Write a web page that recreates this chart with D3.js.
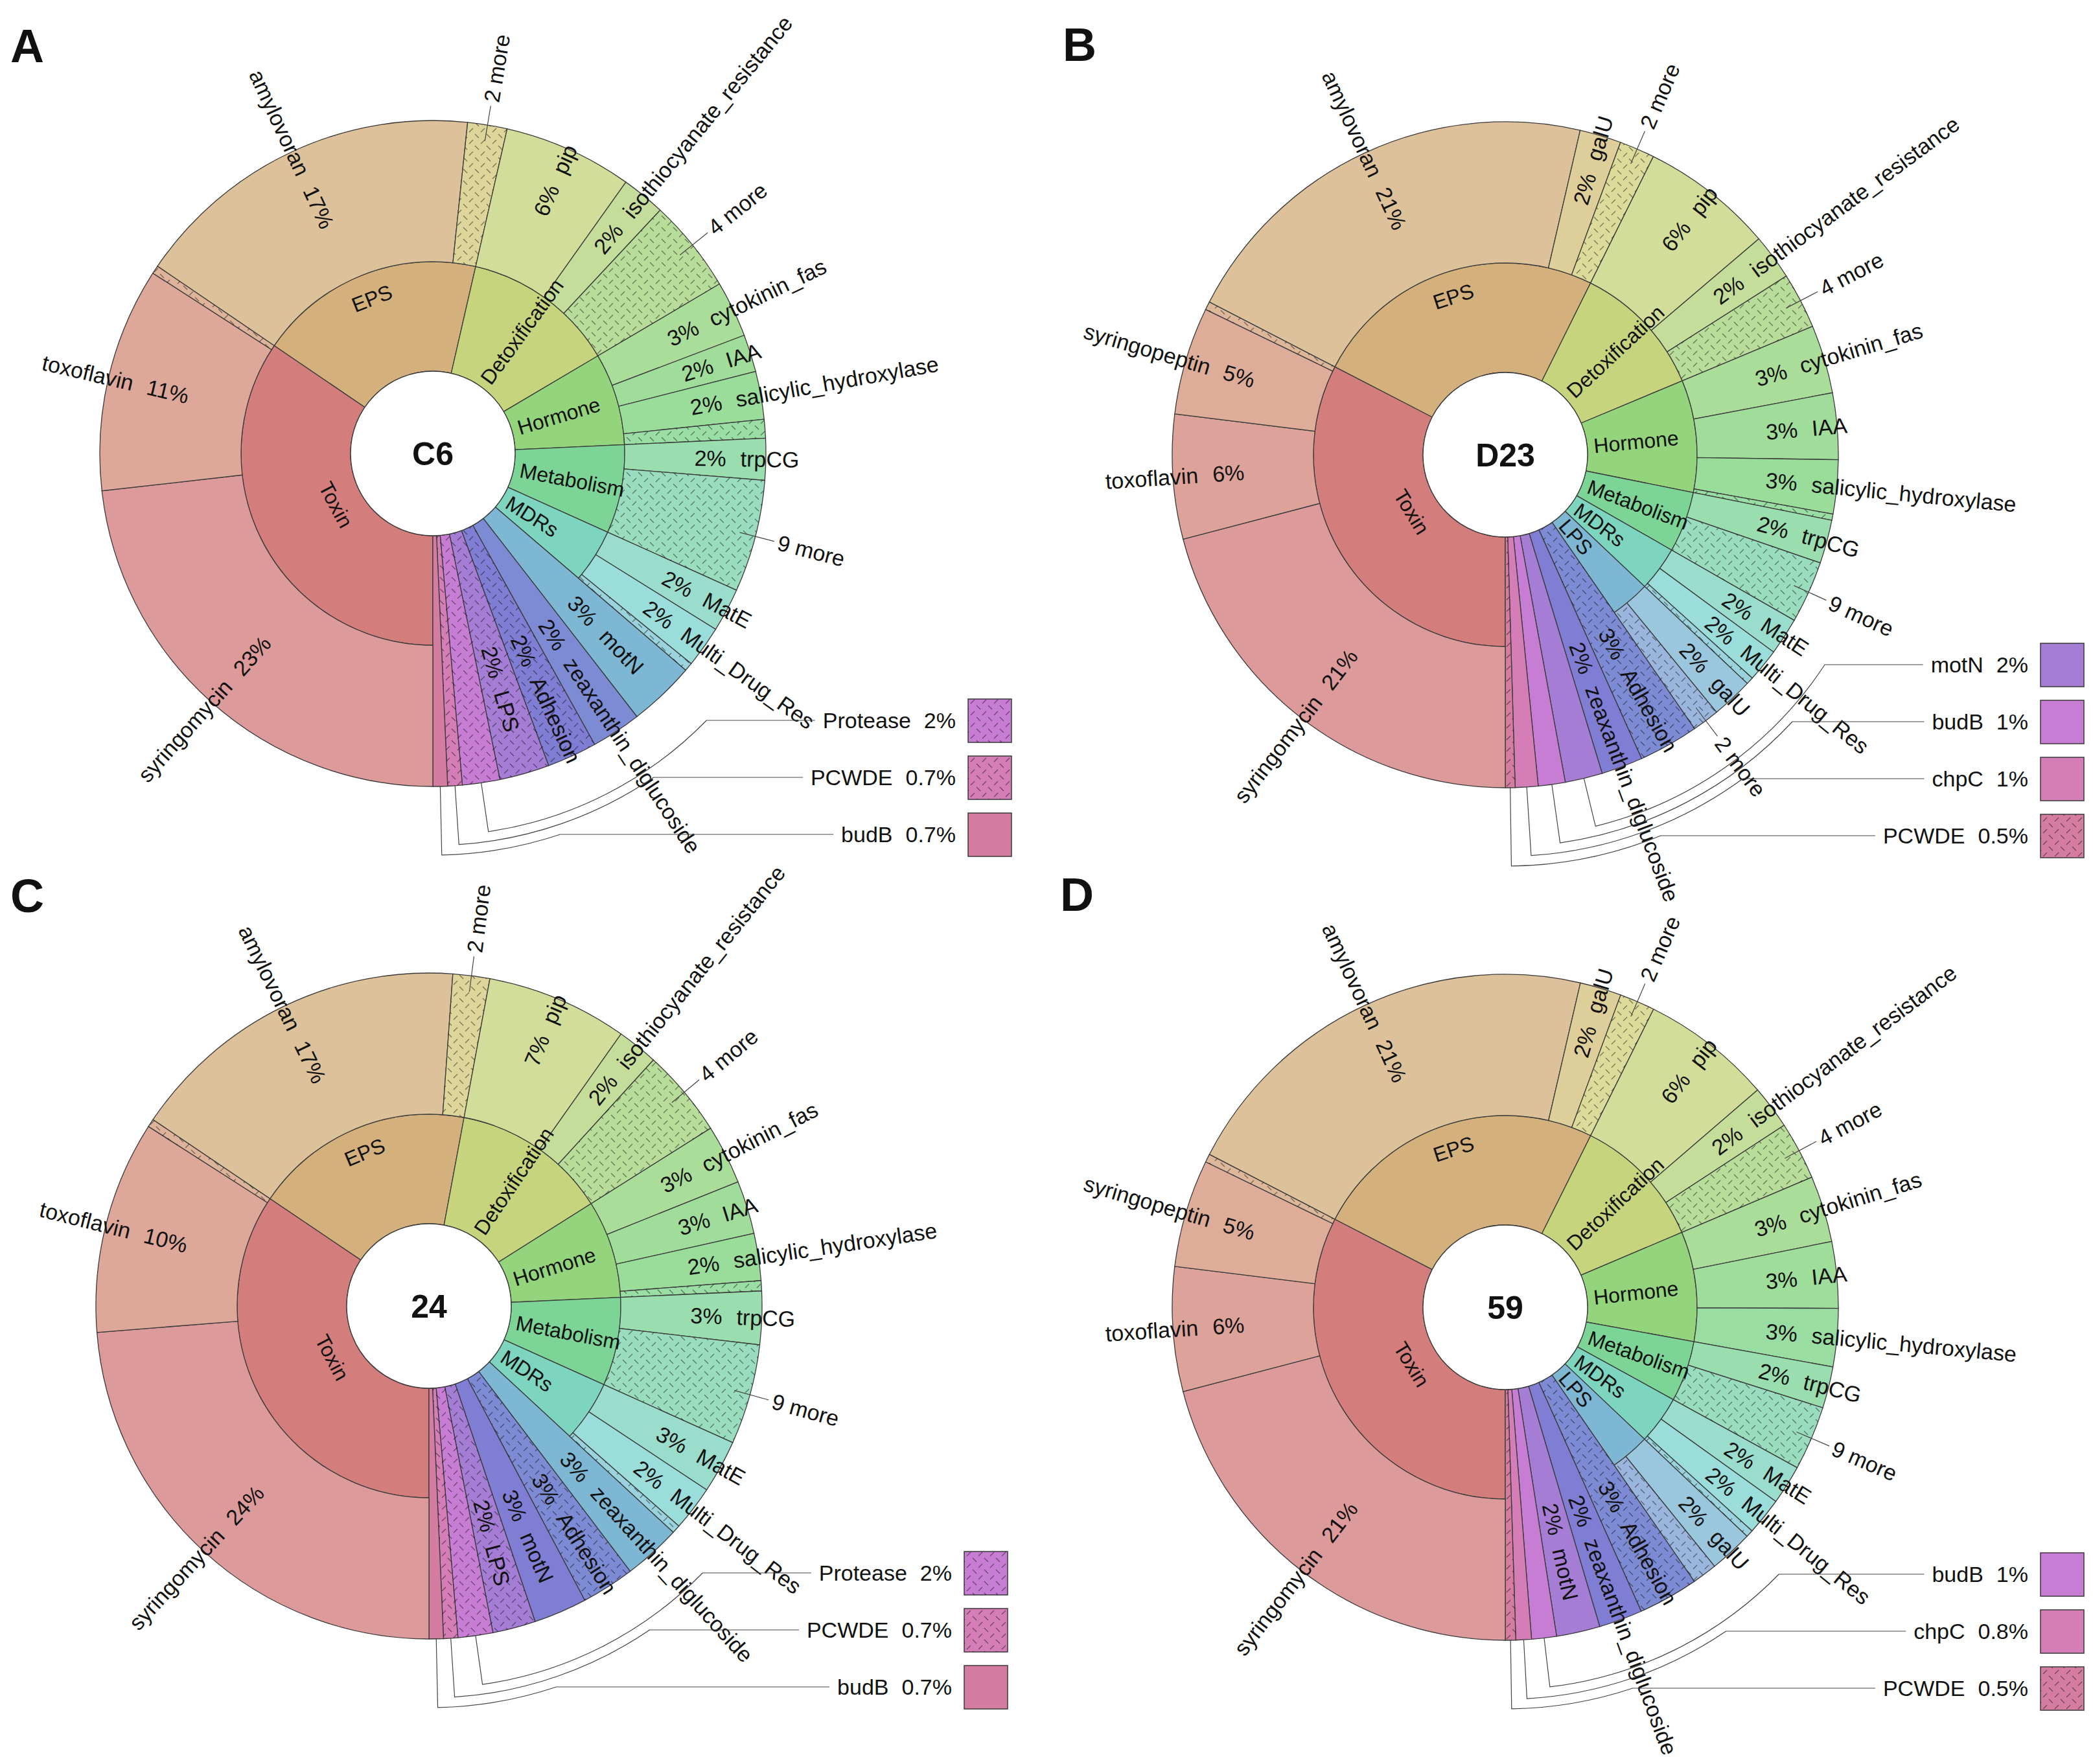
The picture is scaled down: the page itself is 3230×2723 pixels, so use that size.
<!DOCTYPE html>
<html>
<head>
<meta charset="utf-8">
<title>Virulence gene composition</title>
<script src="https://cdn.jsdelivr.net/npm/d3@7"></script>
<style>
  body { margin: 0; background: #fff; }
  svg text { font-family: "Liberation Sans", Arial, Helvetica, sans-serif; fill: #111; }
</style>
</head>
<body>
<svg id="chart" width="3230" height="2723"></svg>
<script>
// panel letters and the sample shown in the middle of each ring
var panelLetters = ["A", "B", "C", "D"];
var sampleNames = ["C6", "D23", "24", "59"];

// [category, gene, percent]   gene null -> category without sub-level
// "n more" -> collapsed genes with label, "" -> collapsed sliver without label
var genesC6 = [
  ["Toxin", "syringomycin", 23.0], ["Toxin", "toxoflavin", 10.8], ["Toxin", "", 0.4],
  ["EPS", "amylovoran", 17.0], ["EPS", "2 more", 1.9],
  ["Detoxification", "pip", 6.2], ["Detoxification", "isothiocyanate_resistance", 2.1], ["Detoxification", "4 more", 4.5],
  ["Hormone", "cytokinin_fas", 2.7], ["Hormone", "IAA", 1.8], ["Hormone", "salicylic_hydroxylase", 2.3], ["Hormone", "", 0.9],
  ["Metabolism", "trpCG", 2.0], ["Metabolism", "9 more", 5.4],
  ["MDRs", "MatE", 2.1], ["MDRs", "Multi_Drug_Res", 2.0], ["MDRs", "", 0.4],
  ["motN", null, 3.2], ["zeaxanthin_diglucoside", null, 2.4], ["Adhesion", null, 2.4],
  ["LPS", null, 2.4], ["Protease", null, 1.8], ["PCWDE", null, 0.7], ["budB", null, 0.7]
];
var hiddenC6 = ["Adhesion", "LPS", "Protease", "PCWDE"];

var genesD23 = [
  ["Toxin", "syringomycin", 20.8], ["Toxin", "toxoflavin", 6.0], ["Toxin", "syringopeptin", 5.2], ["Toxin", "", 0.4],
  ["EPS", "amylovoran", 20.9], ["EPS", "galU", 2.0], ["EPS", "2 more", 1.7],
  ["Detoxification", "pip", 6.4], ["Detoxification", "isothiocyanate_resistance", 2.2], ["Detoxification", "4 more", 2.7],
  ["Hormone", "cytokinin_fas", 3.3], ["Hormone", "IAA", 3.2], ["Hormone", "salicylic_hydroxylase", 2.6], ["Hormone", "", 0.3],
  ["Metabolism", "trpCG", 2.1], ["Metabolism", "9 more", 3.0],
  ["MDRs", "MatE", 1.8], ["MDRs", "Multi_Drug_Res", 1.6], ["MDRs", "", 0.35],
  ["LPS", "galU", 2.0], ["LPS", "2 more", 1.3],
  ["Adhesion", null, 2.9], ["zeaxanthin_diglucoside", null, 2.0], ["motN", null, 1.8],
  ["budB", null, 1.3], ["chpC", null, 1.1], ["PCWDE", null, 0.47]
];
var hiddenD23 = ["Adhesion", "PCWDE"];

var genes24 = [
  ["Toxin", "syringomycin", 23.9], ["Toxin", "toxoflavin", 10.4], ["Toxin", "", 0.4],
  ["EPS", "amylovoran", 16.8], ["EPS", "2 more", 1.8],
  ["Detoxification", "pip", 6.9], ["Detoxification", "isothiocyanate_resistance", 2.0], ["Detoxification", "4 more", 4.3],
  ["Hormone", "cytokinin_fas", 2.9], ["Hormone", "IAA", 2.6], ["Hormone", "salicylic_hydroxylase", 2.3], ["Hormone", "", 0.5],
  ["Metabolism", "trpCG", 2.6], ["Metabolism", "9 more", 4.9],
  ["MDRs", "MatE", 2.6], ["MDRs", "Multi_Drug_Res", 2.2], ["MDRs", "", 0.4],
  ["zeaxanthin_diglucoside", null, 2.8], ["Adhesion", null, 2.6], ["motN", null, 2.6],
  ["LPS", null, 2.1], ["Protease", null, 1.7], ["PCWDE", null, 0.7], ["budB", null, 0.7]
];
var hidden24 = ["Adhesion", "LPS", "Protease", "PCWDE"];

var genes59 = [
  ["Toxin", "syringomycin", 20.8], ["Toxin", "toxoflavin", 6.0], ["Toxin", "syringopeptin", 5.2], ["Toxin", "", 0.4],
  ["EPS", "amylovoran", 20.9], ["EPS", "galU", 2.0], ["EPS", "2 more", 1.7],
  ["Detoxification", "pip", 6.3], ["Detoxification", "isothiocyanate_resistance", 2.1], ["Detoxification", "4 more", 2.8],
  ["Hormone", "cytokinin_fas", 3.2], ["Hormone", "IAA", 3.2], ["Hormone", "salicylic_hydroxylase", 2.8],
  ["Metabolism", "trpCG", 2.0], ["Metabolism", "9 more", 3.1],
  ["MDRs", "MatE", 1.9], ["MDRs", "Multi_Drug_Res", 1.8], ["MDRs", "", 0.35],
  ["LPS", "galU", 2.1], ["LPS", "", 1.2],
  ["Adhesion", null, 2.9], ["zeaxanthin_diglucoside", null, 2.1], ["motN", null, 2.1],
  ["budB", null, 1.2], ["chpC", null, 0.75], ["PCWDE", null, 0.5]
];
var hidden59 = ["Adhesion", "PCWDE"];

var panelRows = [genesC6, genesD23, genes24, genes59];
var panelHidden = [hiddenC6, hiddenD23, hidden24, hidden59];

// layout
var centers = [[668, 700], [2323, 702], [662, 2016], [2323, 2018]];
var letterPos = [[16, 96], [1640, 94], [16, 1408], [1636, 1406]];
var R0 = 127, R1 = 296, R2 = 514;
var hues = [0, 35, 70, 105, 138, 166, 200, 230, 242, 268, 292, 320, 336, 360];
var keyLimit = 1.9;

var svg = d3.select("#chart");
svg.append("rect").attr("width", 3230).attr("height", 2723).attr("fill", "#fff");

var pat = svg.append("defs").append("pattern")
    .attr("id", "hatch").attr("patternUnits", "userSpaceOnUse")
    .attr("width", 18).attr("height", 18);
pat.append("path").attr("d", "M2,8L8,2M11,11L17,17")
    .attr("stroke", "#000").attr("stroke-opacity", 0.45).attr("stroke-width", 1.4);

function deg(a) { var t = a * 180 / Math.PI % 360; return t < 0 ? t + 360 : t; }
function pt(r, a) { return [r * Math.sin(a), -r * Math.cos(a)]; }
function fmt(p) { return p < 1 ? p.toFixed(1) + "%" : Math.round(p) + "%"; }

function buildTree(name, rows) {
    var root = {name: name, children: []}, cats = {};
    rows.forEach(function(r) {
        var c = cats[r[0]];
        if (!c) { c = cats[r[0]] = {name: r[0], children: []}; root.children.push(c); }
        if (r[1] === null) { c.value = r[2]; delete c.children; }
        else c.children.push({name: r[1], value: r[2], more: r[1] === "" || / more$/.test(r[1])});
    });
    return root;
}

function radialText(g, a, r, anchor, txt, size) {
    var t = deg(a), right = t < 180;
    var flip = {start: "end", end: "start"};
    return g.append("text")
        .attr("transform", "rotate(" + (right ? t - 90 : t + 90) + ")")
        .attr("x", right ? r : -r).attr("dy", "0.35em")
        .attr("text-anchor", right ? anchor : flip[anchor])
        .attr("font-size", size).text(txt);
}

function tangText(g, a, txt, size) {
    var t = deg(a), top = t > 270 || t < 90;
    var r = top ? R1 - 0.23 * (R1 - R0) : R0 + 0.25 * (R1 - R0);
    g.append("text")
        .attr("transform", "rotate(" + (top ? t : t - 180) + ")")
        .attr("x", 0).attr("y", top ? -r : r).attr("dy", "0.35em")
        .attr("text-anchor", "middle").attr("font-size", size).text(txt);
}

panelRows.forEach(function(rows, pi) {
    var cx = centers[pi][0], cy = centers[pi][1];
    var hidden = panelHidden[pi];
    var root = d3.hierarchy(buildTree(sampleNames[pi], rows))
        .sum(function(d) { return d.children ? 0 : d.value; });
    d3.partition().size([2 * Math.PI, 1])(root);
    var total = root.value;

    var nodes = root.descendants().filter(function(d) { return d.depth > 0; });
    nodes.forEach(function(d) {
        d.a0 = d.x0 + Math.PI; d.a1 = d.x1 + Math.PI; d.mid = (d.a0 + d.a1) / 2;
        d.pct = d.value / total * 100;
        d.full = d.depth === 1 && !d.children;
        d.hatched = d.data.more || (d.full && hidden.indexOf(d.data.name) >= 0);
        var i, h;
        if (d.depth === 1) {
            i = root.children.indexOf(d);
            d.color = d3.hsl(hues[i], 0.5, 0.66).toString();
        } else {
            i = root.children.indexOf(d.parent);
            var j = d.parent.children.indexOf(d);
            h = hues[i] + (hues[i + 1] - hues[i]) * j / d.parent.children.length;
            d.color = d3.hsl(h, 0.5, 0.735).toString();
        }
        d.keyed = d.full && d.pct < keyLimit;
    });

    var arc = d3.arc()
        .startAngle(function(d) { return d.a0; })
        .endAngle(function(d) { return d.a1; })
        .innerRadius(function(d) { return d.depth === 1 ? R0 : R1; })
        .outerRadius(function(d) { return d.depth === 1 && d.children ? R1 : R2; });

    var g = svg.append("g").attr("transform", "translate(" + cx + "," + cy + ")");

    g.selectAll("path.wedge").data(nodes).join("path")
        .attr("class", "wedge").attr("d", arc)
        .attr("fill", function(d) { return d.color; })
        .attr("stroke", "#3a3a3a").attr("stroke-width", 1.3);
    g.selectAll("path.hatch").data(nodes.filter(function(d) { return d.hatched; })).join("path")
        .attr("class", "hatch").attr("d", arc)
        .attr("fill", "url(#hatch)").attr("stroke", "none");

    g.append("circle").attr("r", R0).attr("fill", "#fff")
        .attr("stroke", "#3a3a3a").attr("stroke-width", 1.3);
    g.append("text").attr("text-anchor", "middle").attr("dy", "0.36em")
        .attr("font-size", 50).attr("font-weight", "bold").text(sampleNames[pi]);

    // labels
    nodes.forEach(function(d) {
        if (d.depth === 1 && d.children) {
            if (deg(d.a1 - d.a0) > 55) tangText(g, d.mid, d.data.name, 32);
            else radialText(g, d.mid, R0 + 10, "start", d.data.name, 32);
        } else if (d.data.more) {
            if (d.data.name) {
                var p1 = pt(R2 - 25, d.mid), p2 = pt(R2 + 30, d.mid);
                g.append("line").attr("x1", p1[0]).attr("y1", p1[1]).attr("x2", p2[0]).attr("y2", p2[1])
                    .attr("stroke", "#444").attr("stroke-width", 1.2);
                radialText(g, d.mid, R2 + 36, "start", d.data.name, 34);
            }
        } else if (!d.keyed) {
            var rj = d.full ? R0 + 0.63 * (R2 - R0) : R1 + 0.77 * (R2 - R1);
            radialText(g, d.mid, rj - 11, "end", fmt(d.pct), 34);
            radialText(g, d.mid, rj + 11, "start", d.data.name, 34);
        }
    });

    // key for slices too narrow to label
    var keyed = nodes.filter(function(d) { return d.keyed; });
    var n = keyed.length;
    keyed.forEach(function(d, k) {
        var y = 588 - (n - 1 - k) * 88;
        var txt = g.append("text").attr("x", 807).attr("y", y).attr("dy", "0.35em")
            .attr("text-anchor", "end").attr("font-size", 34);
        txt.append("tspan").text(d.data.name);
        txt.append("tspan").attr("dx", 20).text(fmt(d.pct));
        g.append("rect").attr("x", 826).attr("y", y - 33).attr("width", 67).attr("height", 67)
            .attr("fill", d.color).attr("stroke", "#3a3a3a").attr("stroke-width", 1.5);
        if (d.hatched) {
            g.append("rect").attr("x", 826).attr("y", y - 33).attr("width", 67).attr("height", 67)
                .attr("fill", "url(#hatch)");
        }
        var x0 = txt.node().getBBox().x - 12;
        var rk = R2 + 76 + 15 * k;
        var c = Math.max(-1, Math.min(1, -y / rk));
        var phi = Math.acos(c);
        var s = pt(R2, d.mid), e = pt(rk, d.mid), f = pt(rk, phi);
        var path = "M" + s + "L" + e + "A" + rk + "," + rk + " 0 0 0 " + f + "L" + x0 + "," + y;
        g.append("path").attr("d", path).attr("fill", "none")
            .attr("stroke", "#444").attr("stroke-width", 1.2);
    });

    svg.append("text").attr("x", letterPos[pi][0]).attr("y", letterPos[pi][1])
        .attr("font-size", 72).attr("font-weight", "bold").text(panelLetters[pi]);
});
</script>
</body>
</html>
